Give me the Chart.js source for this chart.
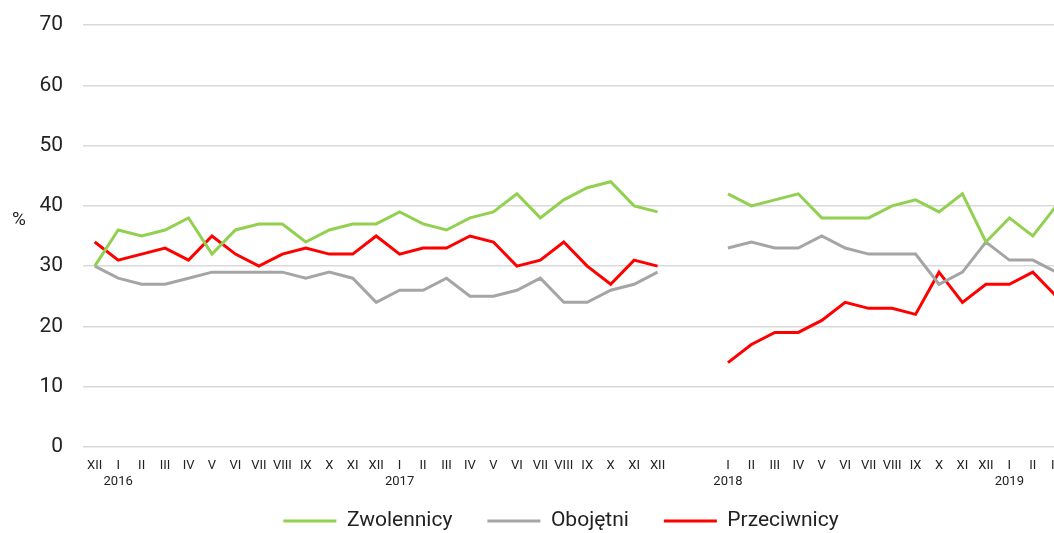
<!DOCTYPE html>
<html>
<head>
<meta charset="utf-8">
<script src="https://cdn.jsdelivr.net/npm/chart.js@4/dist/chart.umd.min.js"></script>
<style>
html,body{margin:0;padding:0;overflow:hidden;background:#fff;}
#wrap{position:relative;width:1122px;height:533px;}
</style>
</head>
<body>
<div id="wrap"><canvas id="c" width="1122" height="533"></canvas></div>
<script>
const months = ['XII','I','II','III','IV','V','VI','VII','VIII','IX','X','XI','XII','I','II','III','IV','V','VI','VII','VIII','IX','X','XI','XII','','','I','II','III','IV','V','VI','VII','VIII','IX','X','XI','XII','I','II','III'];
const yearLabels = {1:'2016',13:'2017',27:'2018',39:'2019'};
const zwolennicy = [30,36,35,36,38,32,36,37,37,34,36,37,37,39,37,36,38,39,42,38,41,43,44,40,39,null,null,42,40,41,42,38,38,38,40,41,39,42,34,38,35,40];
const obojetni   = [30,28,27,27,28,29,29,29,29,28,29,28,24,26,26,28,25,25,26,28,24,24,26,27,29,null,null,33,34,33,33,35,33,32,32,32,27,29,34,31,31,29];
const przeciwnicy= [34,31,32,33,31,35,32,30,32,33,32,32,35,32,33,33,35,34,30,31,34,30,27,31,30,null,null,14,17,19,19,21,24,23,23,22,29,24,27,27,29,25];
const yTicks = [0,10,20,30,40,50,60,70];

const labels = months.map((m,i)=> yearLabels[i] ? [m, yearLabels[i]] : m);
const textColor = '#222';
const FONT = 'Roboto';
const LEGEND_FONT = 21;
const LEGEND_PAD = 35;

const percentPlugin = {
  id:'percentLabel',
  afterDraw(chart){
    const ctx = chart.ctx;
    ctx.save();
    ctx.font = '19px ' + FONT;
    ctx.fillStyle = textColor;
    ctx.textAlign = 'center';
    ctx.textBaseline = 'middle';
    ctx.fillText('%', 19, 220);
    ctx.restore();
  }
};

const legendShift = {
  id:'legendShift',
  afterLayout(chart){
    const lg = chart.legend;
    if (!lg) return;
    lg.top = 521 - LEGEND_PAD - LEGEND_FONT/2;
    lg.bottom = chart.height;
    lg.height = lg.bottom - lg.top;
  }
};

new Chart(document.getElementById('c'), {
  type:'line',
  data:{
    labels: labels,
    datasets:[
      {label:'Zwolennicy', data:zwolennicy, borderColor:'#92d050', backgroundColor:'#92d050', borderWidth:3, pointRadius:0, tension:0, spanGaps:false},
      {label:'Obojętni', data:obojetni, borderColor:'#a5a5a5', backgroundColor:'#a5a5a5', borderWidth:3, pointRadius:0, tension:0, spanGaps:false},
      {label:'Przeciwnicy', data:przeciwnicy, borderColor:'#ff0000', backgroundColor:'#ff0000', borderWidth:3, pointRadius:0, tension:0, spanGaps:false}
    ]
  },
  options:{
    responsive:false,
    animation:false,
    devicePixelRatio:1,
    layout:{padding:{left:0,right:0,top:25,bottom:0}},
    plugins:{
      legend:{
        position:'bottom',
        maxHeight:42,
        labels:{
          usePointStyle:true,
          pointStyle:'line',
          pointStyleWidth:53,
          padding:LEGEND_PAD,
          color:textColor,
          font:{family:FONT,size:LEGEND_FONT}
        }
      },
      tooltip:{enabled:false}
    },
    scales:{
      x:{
        offset:true,
        grid:{display:false,drawTicks:false},
        border:{display:false},
        afterFit(scale){ scale.height = 44; },
        ticks:{
          autoSkip:false,maxRotation:0,minRotation:0,
          color:textColor,padding:11,
          font:{family:FONT,size:13,lineHeight:1.23}
        }
      },
      y:{
        min:0,max:70,
        afterBuildTicks(scale){ scale.ticks = yTicks.map(v=>({value:v})); },
        afterFit(scale){ scale.width = 83; scale.paddingTop = 0; scale.paddingBottom = 0; },
        grid:{color:'#d9d9d9',lineWidth:1.5,drawTicks:false},
        border:{display:false},
        ticks:{color:textColor,padding:20,font:{family:FONT,size:21}}
      },
      yRight:{
        position:'right',
        display:true,
        afterFit(scale){ scale.width = 54; scale.paddingTop = 0; scale.paddingBottom = 0; },
        grid:{display:false,drawTicks:false},
        border:{display:false},
        ticks:{display:false}
      }
    }
  },
  plugins:[percentPlugin, legendShift]
});
</script>
</body>
</html>
